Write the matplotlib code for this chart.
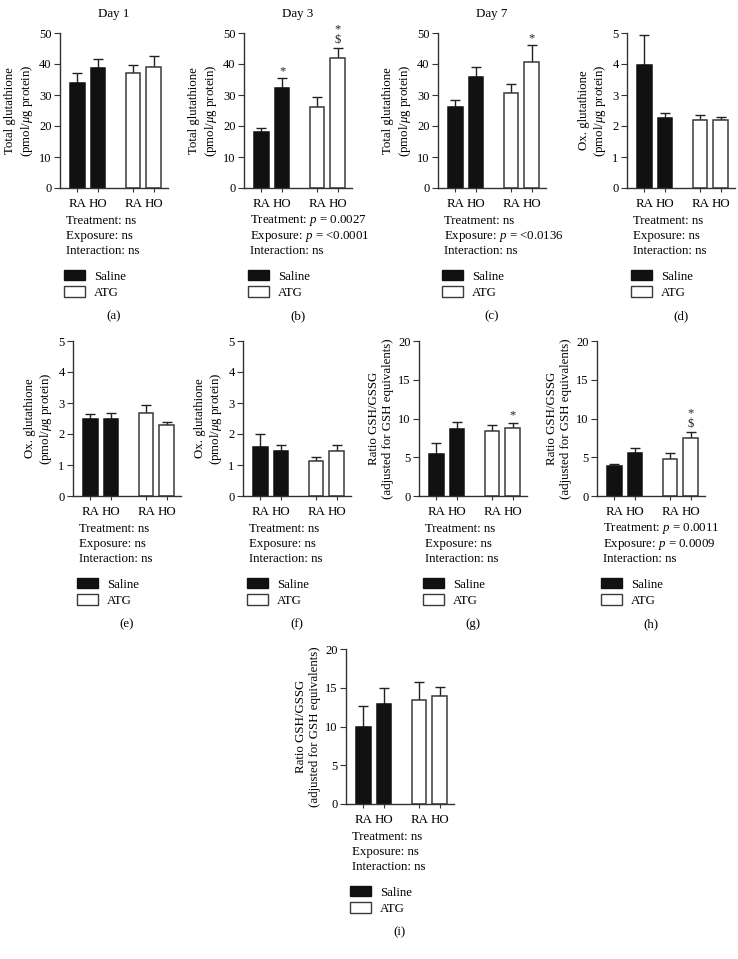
import matplotlib
matplotlib.use("Agg")
import matplotlib.pyplot as plt
import matplotlib.transforms as mtransforms
from matplotlib.patches import Patch

plt.rcParams['font.family'] = ['Liberation Serif', 'DejaVu Serif']
plt.rcParams['mathtext.fontset'] = 'custom'
plt.rcParams['mathtext.rm'] = 'Liberation Serif'
plt.rcParams['mathtext.it'] = 'Liberation Serif:italic'
plt.rcParams['font.size'] = 9.3

# bar order: Saline RA, Saline HO, ATG RA, ATG HO
tick_labels = ["RA", "HO", "RA", "HO"]
bar_x = [0, 1, 2.7, 3.7]
bar_fill = ["#111111", "#111111", "white", "white"]
bar_edge = ["#111111", "#111111", "#3a3a3a", "#3a3a3a"]

panel_ids = ["a", "b", "c", "d", "e", "f", "g", "h", "i"]
day_titles = ["Day 1", "Day 3", "Day 7", "", "", "", "", "", ""]

total_gsh = "Total glutathione\n(pmol/$\\mu$g protein)"
ox_gsh = "Ox. glutathione\n(pmol/$\\mu$g protein)"
ratio_gsh = "Ratio GSH/GSSG\n(adjusted for GSH equivalents)"
ylabels = [total_gsh, total_gsh, total_gsh, ox_gsh, ox_gsh, ox_gsh, ratio_gsh, ratio_gsh, ratio_gsh]
ymax = [50, 50, 50, 5, 5, 5, 20, 20, 20]
ystep = [10, 10, 10, 1, 1, 1, 5, 5, 5]

mean_a = [34.0, 38.8, 37.0, 39.0]
err_a = [3.0, 2.7, 2.8, 3.5]
mean_b = [18.0, 32.3, 26.0, 42.0]
err_b = [1.5, 3.1, 3.4, 3.3]
mean_c = [26.2, 35.8, 30.8, 40.5]
err_c = [2.1, 3.1, 2.6, 5.5]
mean_d = [3.98, 2.25, 2.18, 2.18]
err_d = [0.95, 0.17, 0.19, 0.10]
mean_e = [2.47, 2.50, 2.67, 2.28]
err_e = [0.18, 0.17, 0.25, 0.10]
mean_f = [1.57, 1.45, 1.13, 1.45]
err_f = [0.43, 0.20, 0.12, 0.20]
mean_g = [5.4, 8.6, 8.4, 8.8]
err_g = [1.4, 0.9, 0.7, 0.6]
mean_h = [3.9, 5.5, 4.8, 7.5]
err_h = [0.2, 0.7, 0.7, 0.8]
mean_i = [10.0, 12.9, 13.4, 13.9]
err_i = [2.7, 2.1, 2.4, 1.2]
means = [mean_a, mean_b, mean_c, mean_d, mean_e, mean_f, mean_g, mean_h, mean_i]
errs = [err_a, err_b, err_c, err_d, err_e, err_f, err_g, err_h, err_i]

# significance marks above bars
marks_b = ["", "*", "", "*\n$"]
marks_c = ["", "", "", "*"]
marks_g = ["", "", "", "*"]
marks_h = ["", "", "", "*\n$"]
no_marks = ["", "", "", ""]
marks = [no_marks, marks_b, marks_c, no_marks, no_marks, no_marks, marks_g, marks_h, no_marks]

treatment = ["ns", "$p$ = 0.0027", "ns", "ns", "ns", "ns", "ns", "$p$ = 0.0011", "ns"]
exposure = ["ns", "$p$ = <0.0001", "$p$ = <0.0136", "ns", "ns", "ns", "ns", "$p$ = 0.0009", "ns"]
interaction = ["ns"] * 9

# axes placement in pixels: left, top
W, H = 738, 959
AX_W, AX_H = 108, 155
ax_pos = [(60, 33), (244, 33), (438, 33), (627, 33),
          (73, 341), (243, 341), (419, 341), (597, 341),
          (346, 649)]

fig = plt.figure(figsize=(W / 100, H / 100), dpi=100)


def shifted(ax, dy):
    base = mtransforms.blended_transform_factory(ax.transData, ax.transAxes)
    return mtransforms.offset_copy(base, fig=fig, x=0, y=dy, units='dots')


for k in range(9):
    left, top = ax_pos[k]
    ax = fig.add_axes([left / W, 1 - (top + AX_H) / H, AX_W / W, AX_H / H])
    ax.bar(bar_x, means[k], width=0.7, color=bar_fill, edgecolor=bar_edge, linewidth=1.1, zorder=2)
    ax.errorbar(bar_x, means[k], yerr=[[0] * 4, errs[k]], fmt='none', ecolor="#222222",
                elinewidth=1.0, capsize=3.5, capthick=1.0, zorder=1)
    for x, m, e, s in zip(bar_x, means[k], errs[k], marks[k]):
        if s:
            ax.annotate(s, xy=(x, m + e), xytext=(0, 1), textcoords='offset points',
                        ha='center', va='bottom', linespacing=0.85, fontsize=9,
                        color="#222222", annotation_clip=False)

    ax.set_xlim(-0.85, 4.4)
    ax.set_ylim(0, ymax[k])
    ax.set_yticks(range(0, ymax[k] + 1, ystep[k]))
    ax.set_xticks(bar_x)
    ax.set_xticklabels(tick_labels)
    ax.tick_params(axis='x', length=3, pad=4, color="#333333", labelsize=9.3)
    ax.tick_params(axis='y', length=4, pad=2, color="#333333", labelsize=9)
    for side in ["top", "right"]:
        ax.spines[side].set_visible(False)
    for side in ["left", "bottom"]:
        ax.spines[side].set_color("#333333")
        ax.spines[side].set_linewidth(1.0)
    ax.set_ylabel(ylabels[k], labelpad=3, linespacing=1.25, fontsize=9.3)

    if day_titles[k]:
        ax.text(0.5, 1, day_titles[k], transform=mtransforms.offset_copy(ax.transAxes, fig=fig, y=19, units='dots'),
                ha='center', va='center')

    lines = ["Treatment: " + treatment[k], "Exposure: " + exposure[k], "Interaction: " + interaction[k]]
    for j, line in enumerate(lines):
        ax.text(-0.55, 0, line, transform=shifted(ax, -33 - 15 * j), ha='left', va='center')

    handles = [Patch(facecolor="#111111", edgecolor="#111111"),
               Patch(facecolor="white", edgecolor="#3a3a3a")]
    ax.legend(handles, ["Saline", "ATG"], loc='upper left', bbox_to_anchor=(-0.65, 0),
              bbox_transform=shifted(ax, -82), frameon=False, borderaxespad=0, borderpad=0,
              handlelength=1.6, handleheight=0.85, handletextpad=0.7, labelspacing=0.3)

    ax.text(0.5, 0, "(" + panel_ids[k] + ")",
            transform=mtransforms.offset_copy(ax.transAxes, fig=fig, y=-128, units='dots'),
            ha='center', va='center')

fig.savefig("out.png", dpi=100)
